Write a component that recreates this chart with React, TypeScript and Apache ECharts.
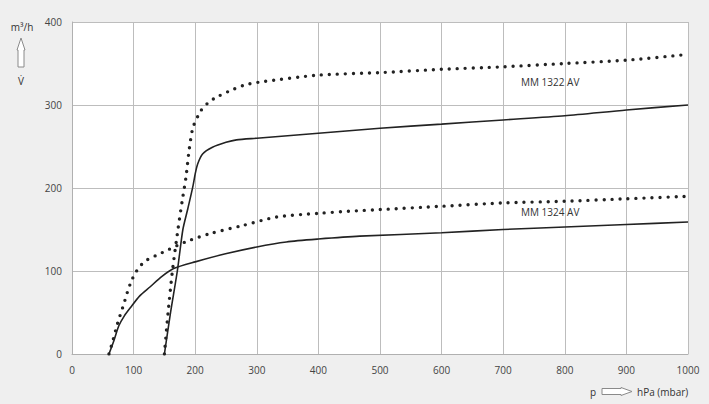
import React, { useEffect, useRef } from "react";
import * as echarts from "echarts";

const xTicks = [0, 100, 200, 300, 400, 500, 600, 700, 800, 900, 1000];
const yTicks = [0, 100, 200, 300, 400];

const mm1322Solid: number[][] = [
  [150, 0], [160, 50], [171, 100], [180, 150], [188, 175], [196, 201], [200, 217],
  [204, 229], [212, 241], [228, 249], [250, 255], [267, 258], [300, 260], [400, 266],
  [500, 272], [600, 277], [700, 282], [800, 287], [900, 294], [1000, 300],
];
const mm1322Dotted: number[][] = [
  [150, 0], [156, 50], [163, 100], [172, 150], [179, 185], [185, 213], [190, 245],
  [196, 272], [204, 286], [210, 294], [220, 302], [231, 308], [256, 317], [280, 324],
  [308, 328], [400, 336], [500, 339], [600, 343], [700, 346], [800, 350], [900, 354],
  [1000, 361],
];
const mm1324Solid: number[][] = [
  [60, 0], [68, 16], [76, 34], [85, 46], [95, 56], [110, 70], [127, 81], [145, 93],
  [165, 103], [200, 111], [251, 121], [300, 129], [348, 135], [400, 138.5], [467, 142],
  [600, 146], [700, 150], [800, 153], [900, 156], [1000, 159],
];
const mm1324Dotted: number[][] = [
  [60, 0], [66, 15], [74, 37], [84, 60], [91, 77], [97, 89], [104, 99], [112, 107],
  [121, 113], [146, 122], [184, 135], [224, 145], [278, 155], [332, 165], [400, 169.5],
  [462, 172.5], [500, 174], [600, 178], [700, 182], [800, 184], [900, 187], [1000, 190],
];
const seriesLabels = ["MM 1322 AV", "MM 1324 AV"];

const FONT = "'Open Sans', 'Noto Sans', sans-serif";

export default function App() {
  const ref = useRef<HTMLDivElement>(null);
  useEffect(() => {
    document.body.style.margin = "0";
    const chart = echarts.init(ref.current!, null, { renderer: "svg" });
    const solid = { type: "solid", width: 1.6, color: "#222" };
    const dotted = { type: [0, 8], width: 3.4, color: "#222", cap: "round" };
    const mk = (data: number[][], ls: any) => ({
      type: "line",
      data,
      showSymbol: false,
      smooth: 0.25,
      lineStyle: ls,
      silent: true,
    });
    const fmt = (v: number) => String(v);
    chart.setOption({
      animation: false,
      backgroundColor: "#efefef",
      textStyle: { fontFamily: FONT },
      grid: {
        left: 72, right: 21, top: 22, bottom: 50,
        show: true, backgroundColor: "#ffffff", borderWidth: 0,
      },
      xAxis: {
        type: "value", min: xTicks[0], max: xTicks[xTicks.length - 1], interval: 100,
        axisLine: { show: true, lineStyle: { color: "#b0b0b0", width: 1 } },
        axisTick: { show: false },
        splitLine: { show: true, lineStyle: { color: "#bdbdbd", width: 1 } },
        axisLabel: { color: "#444", fontSize: 10, margin: 11, fontFamily: FONT, formatter: fmt },
      },
      yAxis: {
        type: "value", min: yTicks[0], max: yTicks[yTicks.length - 1], interval: 100,
        axisLine: { show: true, lineStyle: { color: "#b0b0b0", width: 1 } },
        axisTick: { show: false },
        splitLine: { show: true, lineStyle: { color: "#bdbdbd", width: 1 } },
        axisLabel: { color: "#444", fontSize: 10, margin: 10, fontFamily: FONT, formatter: fmt },
      },
      series: [
        mk(mm1322Solid, solid),
        mk(mm1322Dotted, dotted),
        mk(mm1324Solid, solid),
        mk(mm1324Dotted, dotted),
      ],
      graphic: [
        { type: "text", left: 521, top: 77, style: { text: seriesLabels[0], fill: "#333", font: `10px ${FONT}` } },
        { type: "text", left: 521, top: 207, style: { text: seriesLabels[1], fill: "#333", font: `10px ${FONT}` } },
        { type: "text", x: 22, y: 27, style: { text: "m³/h", fill: "#333", font: `10px ${FONT}`, align: "center", verticalAlign: "middle" } },
        {
          type: "polygon",
          shape: { points: [[21, 38], [25, 50], [24, 50], [24, 67], [18, 67], [18, 50], [17, 50]] },
          style: { fill: "#fff", stroke: "#8a8a8a", lineWidth: 1 },
        },
        { type: "text", x: 21, y: 81, style: { text: "V\u0307", fill: "#333", font: `10px ${FONT}`, align: "center", verticalAlign: "middle" } },
        { type: "text", x: 593, y: 392, style: { text: "p", fill: "#333", font: `10px ${FONT}`, align: "center", verticalAlign: "middle" } },
        {
          type: "polygon",
          shape: { points: [[602, 388.5], [621, 388.5], [621, 387.5], [632, 391.5], [621, 395.5], [621, 394.5], [602, 394.5]] },
          style: { fill: "#fff", stroke: "#8a8a8a", lineWidth: 1 },
        },
        { type: "text", x: 637, y: 392, style: { text: "hPa (mbar)", fill: "#333", font: `10px ${FONT}`, align: "left", verticalAlign: "middle" } },
      ],
    });
    return () => chart.dispose();
  }, []);
  return <div ref={ref} style={{ width: 709, height: 404 }} />;
}
